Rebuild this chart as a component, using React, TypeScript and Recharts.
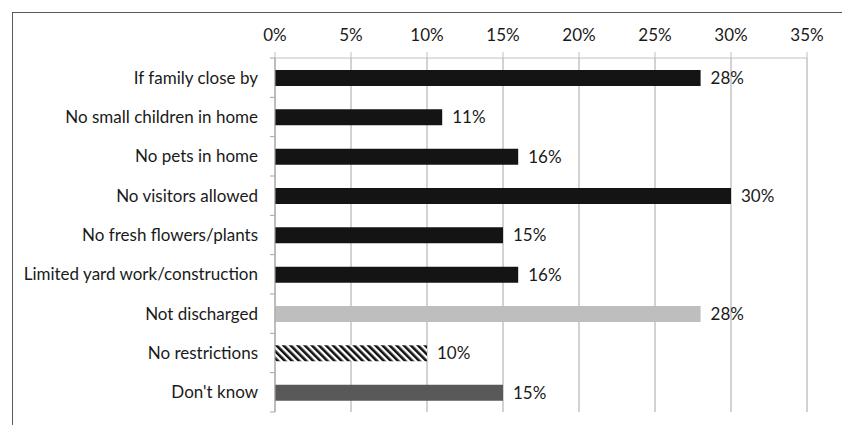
import { BarChart, Bar, XAxis, YAxis, CartesianGrid, Cell, LabelList } from 'recharts';

const categories = [
  'If family close by',
  'No small children in home',
  'No pets in home',
  'No visitors allowed',
  'No fresh flowers/plants',
  'Limited yard work/construction',
  'Not discharged',
  'No restrictions',
  "Don't know",
];
const percents = [28, 11, 16, 30, 15, 16, 28, 10, 15];
const xTicks = [0, 5, 10, 15, 20, 25, 30, 35];

const data = categories.map((name, i) => ({ name, value: percents[i] }));

// fill per row: solid black, light grey, hatched, dark grey
const fills = [
  '#141414', '#141414', '#141414', '#141414', '#141414', '#141414',
  '#bebebe', 'url(#hatch)', '#595959',
];

const FONT = 'Lato, "Open Sans", sans-serif';
const FS = 17;
const W = 842;
const H = 425;
const TOP = 58;
const BOTTOM = 13;
const band = (H - TOP - BOTTOM) / categories.length;

// eslint-disable-next-line @typescript-eslint/no-explicit-any
function CategoryTick(props: any) {
  const { x, y, payload, index } = props;
  return (
    <g>
      <line x1={x - 5} x2={x} y1={y - band / 2} y2={y - band / 2} stroke="#a6a6a6" />
      {index === categories.length - 1 && (
        <line x1={x - 5} x2={x} y1={y + band / 2} y2={y + band / 2} stroke="#a6a6a6" />
      )}
      <text x={x - 17} y={y} dy={6} textAnchor="end" fontSize={FS} fill="#1a1a1a" fontFamily={FONT}>
        {payload.value}
      </text>
    </g>
  );
}

export default function App() {
  return (
    <div style={{ position: 'absolute', left: 0, top: 0, width: W, height: H, background: '#fff' }}>
      <div
        style={{
          position: 'absolute',
          left: 12,
          top: 12,
          width: W,
          height: H,
          borderTop: '1px solid #5a5a5a',
          borderLeft: '1px solid #5a5a5a',
        }}
      />
      <div style={{ position: 'absolute', left: 0, top: 0 }}>
        <BarChart
          width={W}
          height={H}
          data={data}
          layout="vertical"
          margin={{ top: 12, right: 35, bottom: BOTTOM, left: 0 }}
          barSize={16}
        >
          <defs>
            <pattern id="hatch" width={5} height={5} patternUnits="userSpaceOnUse" patternTransform="rotate(-45)">
              <rect width={5} height={5} fill="#fff" />
              <rect width={2.6} height={5} fill="#111" />
            </pattern>
          </defs>
          <CartesianGrid horizontal={false} stroke="#a6a6a6" />
          <XAxis
            type="number"
            orientation="top"
            domain={[0, 35]}
            ticks={xTicks}
            tickFormatter={(v: number) => v + '%'}
            height={46}
            stroke="#c0c0c0"
            tickSize={6}
            tickMargin={11}
            tick={{ fontSize: FS, fill: '#1a1a1a', fontFamily: FONT }}
          />
          <YAxis
            type="category"
            dataKey="name"
            width={275}
            stroke="#a6a6a6"
            tickLine={false}
            tickSize={0}
            tickMargin={0}
            interval={0}
            tick={<CategoryTick />}
          />
          <Bar dataKey="value" isAnimationActive={false}>
            {data.map((d, i) => (
              <Cell key={d.name} fill={fills[i]} />
            ))}
            <LabelList
              dataKey="value"
              position="right"
              offset={10}
              formatter={(v: any) => v + '%'}
              style={{ fontSize: FS, fill: '#1a1a1a', fontFamily: FONT }}
            />
          </Bar>
        </BarChart>
      </div>
    </div>
  );
}
